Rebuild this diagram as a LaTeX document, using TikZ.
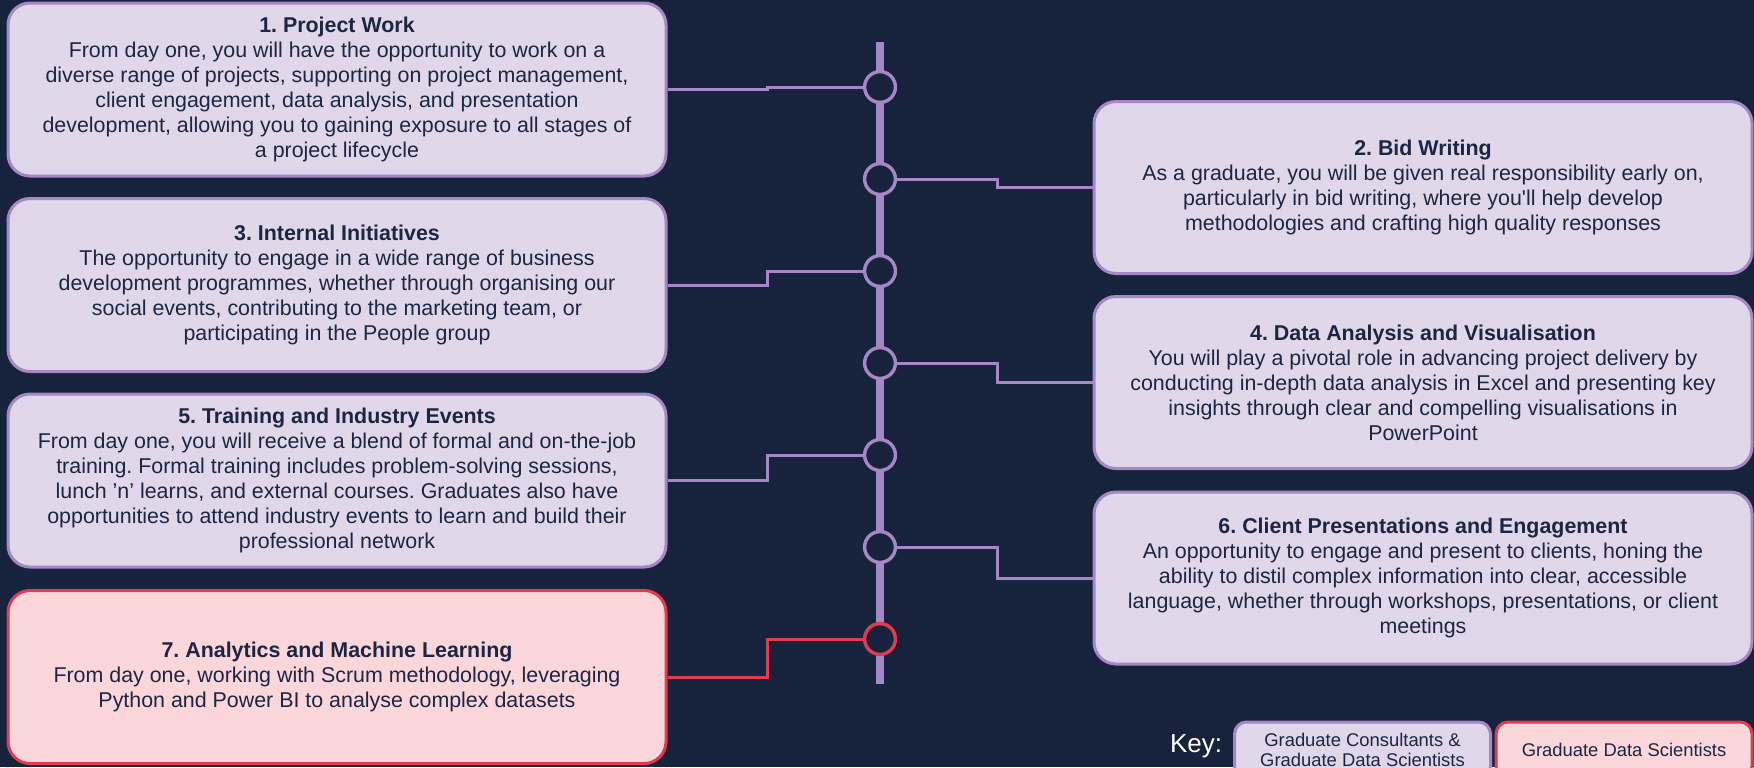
\documentclass[tikz,border=0pt]{standalone}
\usepackage{fontspec}
\setmainfont{Liberation Sans}
\usepackage{tikz}
\usetikzlibrary{positioning}
\frenchspacing

\definecolor{navybg}{HTML}{17233D}
\definecolor{lilacfill}{HTML}{E0D7EB}
\definecolor{lilacline}{HTML}{A587C6}
\definecolor{rosefill}{HTML}{FBD7DC}
\definecolor{roseline}{HTML}{E23A4F}
\definecolor{ink}{HTML}{1C2541}

\begin{document}
\begin{tikzpicture}[x=0.5pt, y=-0.5pt,
  card/.style={draw=lilacline, fill=lilacfill, line width=1.5pt, rounded corners=11pt,
    minimum width=329pt, minimum height=86.5pt, align=center, text=ink,
    font=\fontsize{10.7}{12.5}\selectfont},
  redcard/.style={card, draw=roseline, fill=rosefill},
  milestone/.style={draw=lilacline, fill=navybg, circle, line width=1.7pt,
    minimum size=15.4pt, inner sep=0pt},
  link/.style={draw=lilacline, line width=1.5pt},
  keybox/.style={card, minimum width=128pt, minimum height=28pt, rounded corners=6pt,
    font=\fontsize{9.2}{10}\selectfont}]

\useasboundingbox (0,0) rectangle (1754,767);
\clip (0,0) rectangle (1754,767);
\fill[navybg] (0,0) rectangle (1754,767);

% timeline spine
\coordinate (top) at (880,42);
\coordinate (bottom) at (880,684);
\draw[lilacline, line width=4pt] (top) -- (bottom);

% left column
\node (work) [card] at (337,89.5) {\textbf{1. Project Work}\\
  From day one, you will have the opportunity to work on a\\
  diverse range of projects, supporting on project management,\\
  client engagement, data analysis, and presentation\\
  development, allowing you to gaining exposure to all stages of\\
  a project lifecycle};
\node (internal) [card] at (337,285) {\textbf{3. Internal Initiatives}\\
  The opportunity to engage in a wide range of business\\
  development programmes, whether through organising our\\
  social events, contributing to the marketing team, or\\
  participating in the People group};
\node (training) [card] at (337,480.5) {\textbf{5. Training and Industry Events}\\
  From day one, you will receive a blend of formal and on-the-job\\
  training. Formal training includes problem-solving sessions,\\
  lunch ’n’ learns, and external courses. Graduates also have\\
  opportunities to attend industry events to learn and build their\\
  professional network};
\node (analytics) [redcard] at (337,677) {\textbf{7. Analytics and Machine Learning}\\
  From day one, working with Scrum methodology, leveraging\\
  Python and Power BI to analyse complex datasets};

% right column
\node (bid) [card, minimum height=86pt] at (1423,187.5) {\textbf{2. Bid Writing}\\
  As a graduate, you will be given real responsibility early on,\\
  particularly in bid writing, where you\textquotesingle ll help develop\\
  methodologies and crafting high quality responses};
\node (dataviz) [card, minimum height=86pt] at (1423,382.5) {\textbf{4. Data Analysis and Visualisation}\\
  You will play a pivotal role in advancing project delivery by\\
  conducting in-depth data analysis in Excel and presenting key\\
  insights through clear and compelling visualisations in\\
  PowerPoint};
\node (client) [card, minimum height=86pt] at (1423,578) {\textbf{6. Client Presentations and Engagement}\\
  An opportunity to engage and present to clients, honing the\\
  ability to distil complex information into clear, accessible\\
  language, whether through workshops, presentations, or client\\
  meetings};

% milestones on the spine
\node (m1) [milestone] at (880,87) {};
\node (m2) [milestone] at (880,179) {};
\node (m3) [milestone] at (880,271) {};
\node (m4) [milestone] at (880,363) {};
\node (m5) [milestone] at (880,455) {};
\node (m6) [milestone] at (880,547) {};
\node (m7) [milestone, draw=roseline] at (880,639) {};

\draw[link] (work.east) -- ++(100,0) |- (m1.west);
\draw[link] (internal.east) -- ++(100,0) |- (m3.west);
\draw[link] (training.east) -- ++(100,0) |- (m5.west);
\draw[link, draw=roseline] (analytics.east) -- ++(100,0) |- (m7.west);
\draw[link] (m2.east) -- ++(100,0) |- (bid.west);
\draw[link] (m4.east) -- ++(100,0) |- (dataviz.west);
\draw[link] (m6.east) -- ++(100,0) |- (client.west);

% key
\node (keylabel) [text=white, font=\fontsize{13}{15}\selectfont] at (1196,746) {Key:};
\node (keyboth) [keybox] at (1362.5,750) {Graduate Consultants \&\\Graduate Data Scientists};
\node (keyds) [keybox, draw=roseline, fill=rosefill] at (1624,750) {Graduate Data Scientists};
\end{tikzpicture}
\end{document}
